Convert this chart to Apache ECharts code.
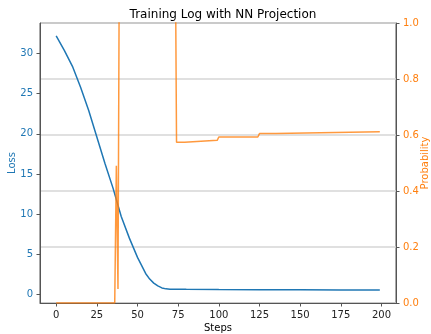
<!DOCTYPE html>
<html>
<head>
<meta charset="utf-8">
<script src="https://cdn.jsdelivr.net/npm/echarts@6.0.0/dist/echarts.min.js"></script>
<style>
    html, body { margin: 0; padding: 0; background: #fff; }
    #chart { width: 431px; height: 334px; }
</style>
</head>
<body>
<div id="chart"></div>
<script>
// 损失曲线
let lossSteps = [0, 5, 10, 15, 20, 25, 30, 35, 40, 45, 50, 55, 57.5, 60, 62.5, 65, 67.5, 70, 80, 100, 125, 150, 175, 199];
let lossValues = [32.2, 30.4, 28.4, 25.8, 22.9, 19.6, 16.3, 13.2, 9.7, 7.0, 4.6, 2.6, 1.9, 1.4, 1.05, 0.8, 0.68, 0.64, 0.62, 0.6, 0.58, 0.56, 0.55, 0.54];

// 概率曲线, >1 的部分被坐标轴裁掉
let probSteps = [0, 36, 37, 38, 39, 73, 74, 79, 80, 99, 100, 124, 125, 135, 136, 199];
let probValues = [0, 0, 0.49, 0.05, 1.5, 1.5, 0.574, 0.574, 0.581, 0.581, 0.593, 0.593, 0.605, 0.605, 0.612, 0.612];

let stepTicks = [0, 25, 50, 75, 100, 125, 150, 175, 200];
let lossTicks = [0, 5, 10, 15, 20, 25, 30];

let blue = '#1f77b4';
let orange = '#ff7f0e';
let font = 'DejaVu Sans';

let lossData = lossSteps.map((s, i) => [s, lossValues[i]]);
let probData = probSteps.map((s, i) => [s, probValues[i]]);

let myChart = echarts.init(document.getElementById('chart'));
let option = {
    animation: false,
    title: {
        text: 'Training Log with NN Projection',
        left: 218,
        top: 4,
        textAlign: 'center',
        textStyle: { fontFamily: font, fontSize: 12, fontWeight: 'normal', color: '#000' }
    },
    grid: {
        left: 40, right: 35, top: 23, bottom: 31,
        outerBoundsMode: 'none',   // 不要自动收缩绘图区
        show: true,
        borderColor: '#555',
        borderWidth: 1
    },
    xAxis: {
        type: 'value',
        min: -9.95,
        max: 208.95,
        name: 'Steps',
        nameLocation: 'middle',
        nameGap: 20,
        nameMoveOverlap: false,
        nameTextStyle: { fontFamily: font, fontSize: 10, color: '#000' },
        axisLine: { show: true, onZero: false, lineStyle: { color: '#555' } },
        axisTick: { show: true, customValues: stepTicks, length: 3.5, lineStyle: { color: '#555' } },
        axisLabel: { customValues: stepTicks, margin: 7, fontFamily: font, fontSize: 10, color: '#222' },
        splitLine: { show: false }
    },
    yAxis: [
        {
            type: 'value',
            min: -1.08,
            max: 33.8,
            name: 'Loss',
            nameLocation: 'middle',
            nameGap: 23,
            nameMoveOverlap: false,
            nameTextStyle: { fontFamily: font, fontSize: 10, color: blue },
            axisLine: { show: true, onZero: false, lineStyle: { color: '#555' } },
            axisTick: { show: true, customValues: lossTicks, length: 3.5, lineStyle: { color: '#555' } },
            axisLabel: { customValues: lossTicks, margin: 7, fontFamily: font, fontSize: 10, color: blue },
            splitLine: { show: false }
        },
        {
            type: 'value',
            position: 'right',
            min: 0,
            max: 1,
            interval: 0.2,
            name: 'Probability',
            nameLocation: 'middle',
            nameGap: 24,
            nameMoveOverlap: false,
            nameTextStyle: { fontFamily: font, fontSize: 10, color: orange },
            axisLine: { show: true, onZero: false, lineStyle: { color: '#555' } },
            axisTick: { show: true, length: 3.5, lineStyle: { color: '#555' } },
            axisLabel: {
                margin: 7, fontFamily: font, fontSize: 10, color: orange,
                formatter: function (v) { return v.toFixed(1); }
            },
            splitLine: { show: true, lineStyle: { color: '#d6d6d6', width: 1.5 } }
        }
    ],
    series: [
        {
            name: 'Loss',
            type: 'line',
            yAxisIndex: 0,
            showSymbol: false,
            lineStyle: { color: blue, width: 1.5 },
            data: lossData
        },
        {
            name: 'Probability',
            type: 'line',
            yAxisIndex: 1,
            showSymbol: false,
            clip: true,
            lineStyle: { color: orange, width: 1.5, opacity: 0.8 },
            data: probData
        }
    ]
};
myChart.setOption(option);
</script>
</body>
</html>
